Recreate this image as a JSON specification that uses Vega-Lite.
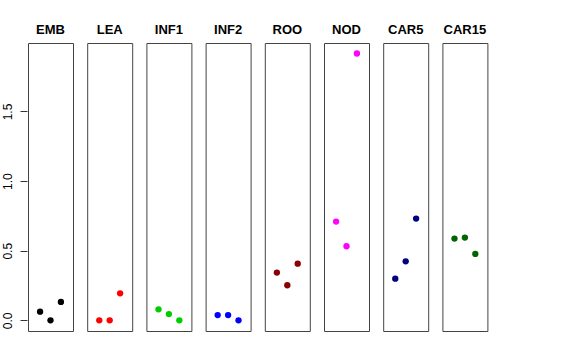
{
  "$schema": "https://vega.github.io/schema/vega-lite/v6.json",
  "padding": {"left": 1, "top": 24, "right": 5, "bottom": 5},
  "data": {"values": [
    {"tissue": "EMB", "rep": 1, "value": 0.062},
    {"tissue": "EMB", "rep": 2, "value": 0.0},
    {"tissue": "EMB", "rep": 3, "value": 0.132},
    {"tissue": "LEA", "rep": 1, "value": 0.0},
    {"tissue": "LEA", "rep": 2, "value": 0.0},
    {"tissue": "LEA", "rep": 3, "value": 0.194},
    {"tissue": "INF1", "rep": 1, "value": 0.079},
    {"tissue": "INF1", "rep": 2, "value": 0.045},
    {"tissue": "INF1", "rep": 3, "value": 0.0},
    {"tissue": "INF2", "rep": 1, "value": 0.038},
    {"tissue": "INF2", "rep": 2, "value": 0.038},
    {"tissue": "INF2", "rep": 3, "value": 0.0},
    {"tissue": "ROO", "rep": 1, "value": 0.343},
    {"tissue": "ROO", "rep": 2, "value": 0.252},
    {"tissue": "ROO", "rep": 3, "value": 0.407},
    {"tissue": "NOD", "rep": 1, "value": 0.709},
    {"tissue": "NOD", "rep": 2, "value": 0.532},
    {"tissue": "NOD", "rep": 3, "value": 1.916},
    {"tissue": "CAR5", "rep": 1, "value": 0.299},
    {"tissue": "CAR5", "rep": 2, "value": 0.424},
    {"tissue": "CAR5", "rep": 3, "value": 0.731},
    {"tissue": "CAR15", "rep": 1, "value": 0.587},
    {"tissue": "CAR15", "rep": 2, "value": 0.594},
    {"tissue": "CAR15", "rep": 3, "value": 0.477}
  ]},
  "facet": {
    "column": {
      "field": "tissue",
      "type": "nominal",
      "sort": ["EMB", "LEA", "INF1", "INF2", "ROO", "NOD", "CAR5", "CAR15"],
      "title": null,
      "header": {"labelFont": "Liberation Sans", "labelFontWeight": "bold", "labelFontSize": 13, "labelColor": "#000", "labelPadding": 5}
    }
  },
  "spacing": 12.2,
  "spec": {
    "width": 45,
    "height": 288,
    "mark": {"type": "circle", "size": 40, "opacity": 1},
    "encoding": {
      "x": {"field": "rep", "type": "quantitative", "scale": {"domain": [-0.16, 4.16], "nice": false, "zero": false}, "axis": null},
      "y": {"field": "value", "type": "quantitative", "scale": {"domain": [-0.0766, 1.9916], "nice": false, "zero": false},
        "axis": {"title": null, "values": [0, 0.5, 1, 1.5], "format": ".1f", "grid": false, "domain": false, "tickSize": 7, "tickColor": "#333",
          "labelAngle": -90, "labelAlign": "center", "labelBaseline": "bottom", "labelPadding": 6, "labelFont": "Liberation Sans", "labelFontSize": 12, "labelColor": "#000"}},
      "color": {"field": "tissue", "type": "nominal", "legend": null,
        "scale": {"domain": ["EMB", "LEA", "INF1", "INF2", "ROO", "NOD", "CAR5", "CAR15"],
          "range": ["#000000", "#FF0000", "#00CD00", "#0000FF", "#8B0000", "#FF00FF", "#000080", "#006400"]}}
    }
  },
  "config": {"view": {"stroke": "#444", "strokeWidth": 1}}
}
